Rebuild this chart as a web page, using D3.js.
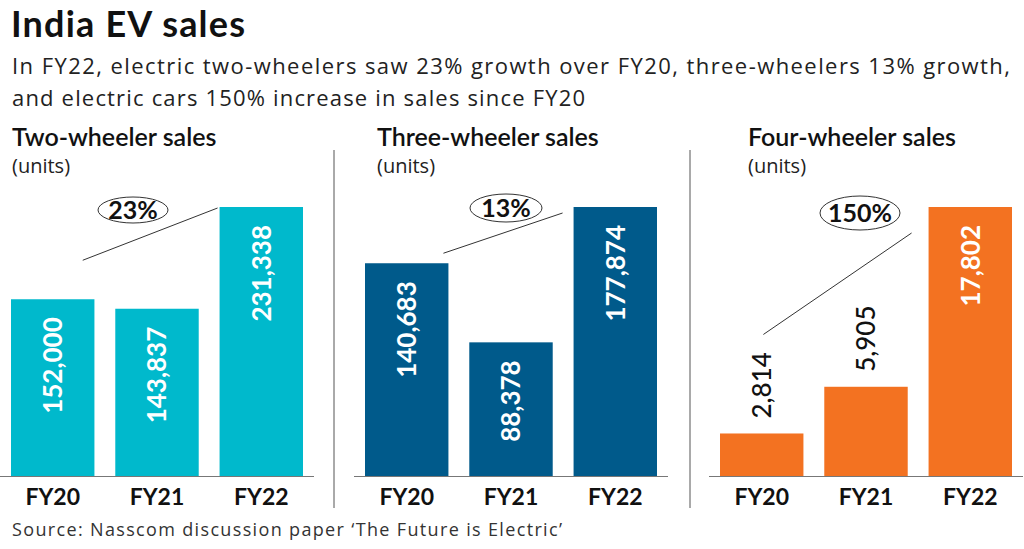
<!DOCTYPE html>
<html>
<head>
<meta charset="utf-8">
<script src="https://cdn.jsdelivr.net/npm/d3@7"></script>
<style>
  body { margin: 0; background: #fff; }
  svg { display: block; font-family: Lato, "Open Sans", sans-serif; }
  .body-text { font-family: "Open Sans", sans-serif; }
</style>
</head>
<body>
<div id="chart"></div>
<script>
// data
const years = ["FY20", "FY21", "FY22"];
const panelTitles = ["Two-wheeler sales", "Three-wheeler sales", "Four-wheeler sales"];
const twoWheeler = [152000, 143837, 231338];
const threeWheeler = [140683, 88378, 177874];
const fourWheeler = [2814, 5905, 17802];
const growthLabels = ["23%", "13%", "150%"];
const barColors = ["#00b9cc", "#005a8b", "#f37221"];
// labels drawn above the bar instead of inside (four-wheeler FY20, FY21)
const outsideLabels = [[], [], ["FY20", "FY21"]];

const width = 1024, height = 549;
const baseline = 476, topY = 207;

// panel layout
const panels = [
  {x0: 0, titleX: 12, ell: [133, 210, 35, 13], line: [0.86, 39, -2, 1]},
  {x0: 354, titleX: 377, ell: [506, 208, 36, 14], line: [0.94, 10, -11, 6]},
  {x0: 709, titleX: 748, ell: [860, 213, 40, 17], line: [0.52, 99, -17, 26]}
];
const series = [twoWheeler, threeWheeler, fourWheeler];
const fmt = d3.format(",d");

const svg = d3.select("#chart").append("svg")
    .attr("width", width)
    .attr("height", height);

svg.append("text")
    .attr("x", 11).attr("y", 37)
    .attr("font-size", 36).attr("font-weight", 700)
    .attr("fill", "#111")
    .attr("textLength", 234)
    .text("India EV sales");

const subtitle = [
  "In FY22, electric two-wheelers saw 23% growth over FY20, three-wheelers 13% growth,",
  "and electric cars 150% increase in sales since FY20"
];
svg.append("text")
    .attr("class", "body-text")
    .attr("x", 12).attr("y", 74)
    .attr("font-size", 22).attr("fill", "#222")
    .attr("textLength", 998)
    .text(subtitle[0]);
svg.append("text")
    .attr("class", "body-text")
    .attr("x", 12).attr("y", 106)
    .attr("font-size", 22).attr("fill", "#222")
    .attr("textLength", 573)
    .text(subtitle[1]);

// dividers
[334, 690].forEach(x => {
  svg.append("line")
      .attr("x1", x).attr("x2", x)
      .attr("y1", 150).attr("y2", 508)
      .attr("stroke", "#555").attr("stroke-width", 1);
});

panels.forEach((p, i) => {
  const vals = series[i];
  const g = svg.append("g");

  g.append("text")
      .attr("x", p.titleX).attr("y", 146)
      .attr("font-size", 25).attr("font-weight", 600).attr("fill", "#111")
      .text(panelTitles[i]);
  g.append("text")
      .attr("class", "body-text")
      .attr("x", p.titleX).attr("y", 173)
      .attr("font-size", 20).attr("fill", "#222")
      .text("(units)");

  const x = d3.scaleBand()
      .domain(years)
      .range([p.x0 + 11, p.x0 + 303])
      .paddingInner(0.2);
  const y = d3.scaleLinear()
      .domain([0, d3.max(vals)])
      .range([baseline, topY]);

  const rows = years.map((yr, k) => ({year: yr, value: vals[k]}));

  g.selectAll("rect")
    .data(rows)
    .join("rect")
      .attr("x", d => x(d.year))
      .attr("y", d => y(d.value))
      .attr("width", x.bandwidth())
      .attr("height", d => baseline - y(d.value))
      .attr("fill", barColors[i]);

  // baseline axis
  const axis = d3.axisBottom(x).tickSize(0).tickPadding(13);
  const ax = g.append("g")
      .attr("transform", `translate(0,${baseline})`)
      .call(axis);
  ax.select(".domain")
      .attr("d", `M${p.x0},0.5H${p.x0 + 314}`)
      .attr("stroke", "#777");
  ax.selectAll(".tick text")
      .attr("font-family", "Lato, 'Open Sans', sans-serif")
      .attr("font-size", 23).attr("font-weight", 700)
      .attr("fill", "#111")
      .attr("dy", "0.71em");

  // value labels
  g.selectAll("text.val")
    .data(rows)
    .join("text")
      .attr("class", "val")
      .attr("transform", d => {
        const cx = x(d.year) + x.bandwidth() / 2;
        const out = outsideLabels[i].includes(d.year);
        return `translate(${cx},${out ? y(d.value) - 15 : y(d.value) + 18}) rotate(-90)`;
      })
      .attr("text-anchor", d => outsideLabels[i].includes(d.year) ? "start" : "end")
      .attr("dy", "0.36em")
      .attr("font-size", 26)
      .attr("font-weight", d => outsideLabels[i].includes(d.year) ? 500 : 700)
      .attr("fill", d => outsideLabels[i].includes(d.year) ? "#111" : "#fff")
      .text(d => fmt(d.value));

  // growth annotation
  const [sf, lift, ex, drop] = p.line;
  g.append("line")
      .attr("x1", x(years[0]) + x.bandwidth() * sf)
      .attr("y1", y(vals[0]) - lift)
      .attr("x2", x(years[2]) + ex)
      .attr("y2", y(vals[2]) + drop)
      .attr("stroke", "#333").attr("stroke-width", 1);

  const [ecx, ecy, erx, ery] = p.ell;
  g.append("ellipse")
      .attr("cx", ecx).attr("cy", ecy)
      .attr("rx", erx).attr("ry", ery)
      .attr("fill", "#fff").attr("stroke", "#333").attr("stroke-width", 1);
  g.append("text")
      .attr("x", ecx).attr("y", ecy)
      .attr("dy", "0.36em")
      .attr("text-anchor", "middle")
      .attr("font-size", 25).attr("font-weight", 700).attr("fill", "#111")
      .text(growthLabels[i]);
});

svg.append("text")
    .attr("class", "body-text")
    .attr("x", 12).attr("y", 536)
    .attr("font-size", 18).attr("fill", "#333")
    .attr("textLength", 550)
    .text("Source: Nasscom discussion paper \u2018The Future is Electric\u2019");
</script>
</body>
</html>
